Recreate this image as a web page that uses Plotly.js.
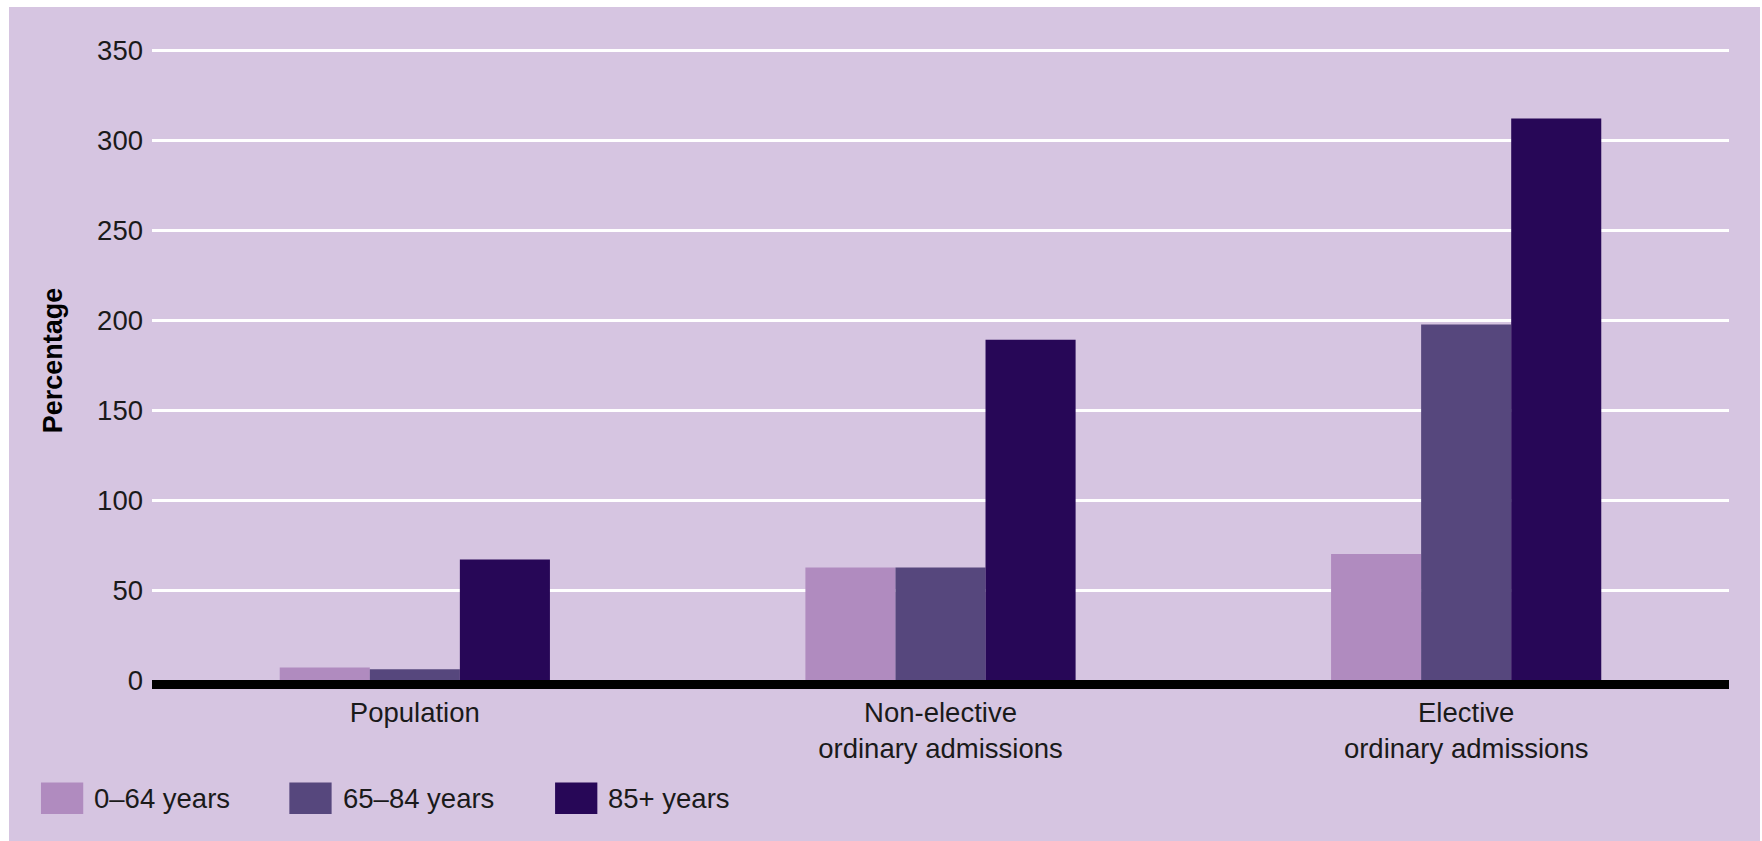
<!DOCTYPE html>
<html>
<head>
<meta charset="utf-8">
<script src="https://cdn.plot.ly/plotly-3.0.1.min.js"></script>
<style>
  html, body { margin: 0; padding: 0; background: #ffffff; }
  #chart { position: absolute; left: 9px; top: 7px; width: 1751px; height: 834px; }
</style>
</head>
<body>
<div id="chart"></div>
<script>
// ---- data ----
const categories = ['Population', 'Non-elective<br>ordinary admissions', 'Elective<br>ordinary admissions'];
const seriesNames = ['0–64 years', '65–84 years', '85+ years'];
const age0to64 = [7, 62.5, 70];
const age65to84 = [6, 62.5, 197.5];
const age85plus = [67, 189, 312];
const yTickVals = [0, 50, 100, 150, 200, 250, 300, 350];
const yTitle = 'Percentage';

// ---- style ----
const colors = ['#b08bbf', '#56477d', '#270757'];
const bg = '#d6c5e1';
const fontFamily = '"Liberation Sans", Arial, sans-serif';
const seriesValues = [age0to64, age65to84, age85plus];

const traces = seriesValues.map((vals, i) => ({
  type: 'bar',
  name: seriesNames[i],
  x: categories,
  y: vals,
  marker: { color: colors[i], line: { width: 0 } },
  showlegend: false,
  hoverinfo: 'x+y+name'
}));

// custom legend (large swatches) built from series names / colours
// plot area: 639 px tall (range 0..355), bottom at 680 px page
const plotH = 639;
const px2py = (py) => (680 - py) / plotH;
const swatchX = [-0.0704, 0.0871, 0.2556];
const swatchW = 0.0268;
const legendTop = px2py(782.5), legendBottom = px2py(814);
const shapes = seriesNames.map((n, i) => ({
  type: 'rect', xref: 'paper', yref: 'paper',
  x0: swatchX[i], x1: swatchX[i] + swatchW,
  y0: legendBottom, y1: legendTop,
  fillcolor: colors[i], line: { width: 0 }, layer: 'above'
}));
const annotations = seriesNames.map((n, i) => ({
  xref: 'paper', yref: 'paper',
  x: swatchX[i] + swatchW + 0.0058, y: (legendTop + legendBottom) / 2,
  xanchor: 'left', yanchor: 'middle',
  text: n, showarrow: false,
  font: { family: fontFamily, size: 27.5, color: '#1a1a1a' }
}));

const layout = {
  width: 1751, height: 834,
  margin: { l: 143, r: 31, t: 34, b: 161, pad: 0 },
  paper_bgcolor: bg,
  plot_bgcolor: bg,
  barmode: 'group',
  bargap: 0.486,
  bargroupgap: 0,
  font: { family: fontFamily, size: 27.5, color: '#1a1a1a' },
  xaxis: {
    type: 'category',
    showgrid: false,
    showline: true, linecolor: '#000000', linewidth: 9,
    ticks: '', ticklabelstandoff: 0,
    tickfont: { family: fontFamily, size: 27.5, color: '#1a1a1a' },
    fixedrange: true
  },
  yaxis: {
    range: [0, 355],
    tickvals: yTickVals,
    ticktext: yTickVals.map(String),
    showgrid: true, gridcolor: '#ffffff', gridwidth: 3,
    zeroline: false, showline: false,
    ticks: '', ticklabelstandoff: 8,
    tickfont: { family: fontFamily, size: 27.5, color: '#1a1a1a' },
    title: { text: yTitle, standoff: 26, font: { family: fontFamily, size: 27, color: '#000000', weight: 'bold' } },
    automargin: false,
    fixedrange: true
  },
  shapes: shapes,
  annotations: annotations
};

Plotly.newPlot('chart', traces, layout, { displayModeBar: false, staticPlot: true });
</script>
</body>
</html>
